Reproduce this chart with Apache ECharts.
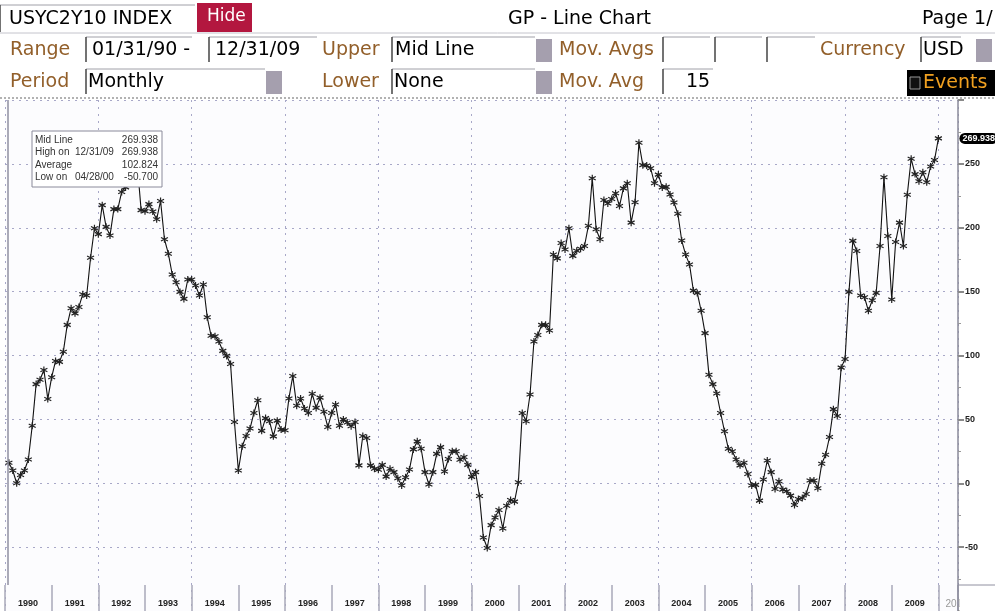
<!DOCTYPE html>
<html>
<head>
<meta charset="utf-8">
<title>USYC2Y10 INDEX - GP Line Chart</title>
<script src="https://cdn.jsdelivr.net/npm/echarts@6/dist/echarts.min.js"></script>
<style>
  html, body { margin: 0; padding: 0; background: #fff; }
  #chart { width: 995px; height: 611px; }
</style>
</head>
<body>
<div id="chart"></div>
<script>
// monthly month-end values, 01/31/90 .. 12/31/09
var startYear = 1990;
var spread1990s = [
  16, 10, 0, 6.5, 10, 18.6, 45, 77.6, 81, 88.7, 66, 83,                      // 1990
  95.7, 95, 103, 124, 137, 133, 138, 148, 147, 176.5, 199.6, 195,            // 1991
  217.7, 200.7, 194, 214.6, 214.6, 228, 231.6, 245, 258, 250, 213.8, 213,    // 1992
  218.5, 212.7, 206.7, 221, 191, 179.7, 163.4, 157.4, 149.8, 144.3, 159.5, 159.5, // 1993
  154.8, 147, 155.6, 129.9, 115.4, 115, 111, 103.6, 99.7, 93.4, 48, 10,      // 1994
  29, 37, 42.8, 55, 65, 41, 51, 48.6, 36.7, 49, 42, 41.5,                    // 1995
  66.4, 84, 60.6, 66.4, 58.5, 55, 70, 59, 67, 56, 44, 55,                    // 1996
  61.7, 45, 50, 47.5, 44.6, 48, 14, 37, 35.4, 14, 11.3, 10.5,                // 1997
  14.4, 5.2, 11.3, 8.7, 3.9, -1.8, 4.7, 10.8, 26.5, 32.8, 27, 8.7,           // 1998
  -1, 8.7, 23, 28.3, 9.2, 19, 25, 25, 18.4, 20.5, 14.4, 5                    // 1999
];
var spread2000s = [
  8.7, -10, -42.5, -50.7, -32.8, -26.8, -21, -35.4, -17.6, -13.1, -14.4, 0.8, // 2000
  55, 48.5, 69.5, 111, 116, 124, 124, 119.6, 179, 176, 188, 183,             // 2001
  199.6, 178, 182, 183.6, 185.7, 201.5, 238.7, 198.8, 191, 221.7, 219, 222.5, // 2002
  227, 217, 230.8, 234.8, 204, 220, 266.5, 249, 248.7, 246.6, 234.8, 241.6,  // 2003
  231.6, 232, 226, 219.8, 211, 190, 179, 171.3, 150.8, 149, 135, 117.5,      // 2004
  85, 77.6, 70.3, 55, 40.7, 27, 25, 18.6, 14, 16, 7.3, -1.8,                 // 2005
  -1.3, -13.6, 2.9, 17.8, 8.7, -4.5, 1.6, -5, -6.3, -9.7, -17, -12.3,        // 2006
  -11.5, -8.4, 2.1, 2.1, -3.9, 15.2, 22.3, 36.2, 58, 52.7, 90.5, 97.3,       // 2007
  149.8, 189.7, 181.8, 147, 145.6, 135, 143.2, 149, 185.7, 239.5, 193.6, 143.8, // 2008
  188.9, 204, 185.7, 225.9, 254, 242, 236.4, 243.4, 235.6, 248, 253, 269.938 // 2009
];
var yearLabels = ['1990', '1991', '1992', '1993', '1994', '1995', '1996', '1997', '1998', '1999',
  '2000', '2001', '2002', '2003', '2004', '2005', '2006', '2007', '2008', '2009', '201'];
var statsRows = [
  ['Mid Line', '', '269.938'],
  ['High on', '12/31/09', '269.938'],
  ['Average', '', '102.824'],
  ['Low on', '04/28/00', '-50.700']
];
var lastLabel = '269.938';

var values = spread1990s.concat(spread2000s);
var seriesData = values.map(function (v, i) {
  return [startYear + (i + 1) / 12, v];
});
var xMax = 2010.42;

var brown = '#925f2a';
var uiFont = '"DejaVu Sans", sans-serif';
var smallFont = '"Liberation Sans", Arial, sans-serif';

function txt(x, y, s, color, size) {
  return { type: 'text', x: x, y: y, z: 10,
    style: { text: s, fill: color || '#000', font: (size || 19) + 'px ' + uiFont, verticalAlign: 'middle' } };
}
function field(x, y, w, h) {
  return { type: 'group', z: 10, children: [
    { type: 'rect', shape: { x: x, y: y, width: w, height: h }, style: { fill: '#fff' } },
    { type: 'line', shape: { x1: x, y1: y, x2: x + w, y2: y }, style: { stroke: '#a0a0a8', lineWidth: 1 } },
    { type: 'line', shape: { x1: x, y1: y, x2: x, y2: y + h }, style: { stroke: '#444', lineWidth: 1.5 } }
  ] };
}
function knob(x, y) {
  return { type: 'rect', z: 10, shape: { x: x, y: y, width: 16, height: 23 }, style: { fill: '#a59fae' } };
}

var header = [
  field(0, 5, 195, 27), txt(9, 19, 'USYC2Y10 INDEX'),
  { type: 'rect', z: 10, shape: { x: 197, y: 3, width: 55, height: 29 }, style: { fill: '#b3173f' } },
  txt(207, 17, 'Hide', '#fff', 17),
  txt(508, 19, 'GP - Line Chart'),
  txt(922, 19, 'Page 1/'),
  { type: 'line', z: 10, shape: { x1: 0, y1: 33, x2: 995, y2: 33 }, style: { stroke: '#c4c4cc', lineWidth: 1 } },

  txt(10, 50, 'Range', brown),
  field(86, 37, 106, 25), txt(92, 50, '01/31/90 -'),
  field(209, 37, 108, 25), txt(215, 50, '12/31/09'),
  txt(322, 50, 'Upper', brown),
  field(392, 37, 143, 25), txt(395, 50, 'Mid Line'), knob(536, 39),
  txt(559, 50, 'Mov. Avgs', brown),
  field(663, 37, 47, 25), field(715, 37, 47, 25), field(767, 37, 48, 25),
  txt(820, 50, 'Currency', brown),
  field(921, 37, 40, 25), txt(923, 50, 'USD'), knob(976, 39),

  txt(10, 82, 'Period', brown),
  field(86, 69, 179, 25), txt(88, 82, 'Monthly'), knob(266, 71),
  txt(322, 82, 'Lower', brown),
  field(392, 69, 143, 25), txt(394, 82, 'None'), knob(536, 71),
  txt(559, 82, 'Mov. Avg', brown),
  field(663, 69, 50, 25), txt(686, 82, '15'),
  { type: 'rect', z: 10, shape: { x: 907, y: 70, width: 88, height: 26 }, style: { fill: '#000' } },
  { type: 'rect', z: 11, shape: { x: 910, y: 77, width: 10, height: 12 }, style: { fill: '#111', stroke: '#999', lineWidth: 1 } },
  txt(923, 83, 'Events', '#f0a020'),
  { type: 'line', z: 10, shape: { x1: 0, y1: 98, x2: 995, y2: 98 }, style: { stroke: '#999', lineWidth: 1.5, lineDash: [2, 2] } }
];

// stats box in the upper left of the plot
var statsBox = [
  { type: 'rect', z: 20, shape: { x: 32, y: 131, width: 130, height: 56 }, style: { fill: '#fff', stroke: '#8a8a9a', lineWidth: 1 } }
];
statsRows.forEach(function (r, k) {
  var y = 140 + k * 12.5;
  var f = '10px ' + smallFont;
  statsBox.push({ type: 'text', z: 21, x: 35, y: y, style: { text: r[0], fill: '#333', font: f, verticalAlign: 'middle' } });
  if (r[1]) statsBox.push({ type: 'text', z: 21, x: 75, y: y, style: { text: r[1], fill: '#333', font: f, verticalAlign: 'middle' } });
  statsBox.push({ type: 'text', z: 21, x: 158, y: y, style: { text: r[2], fill: '#333', font: f, align: 'right', verticalAlign: 'middle' } });
});

var frame = [
  { type: 'line', z: 5, shape: { x1: 8, y1: 100, x2: 8, y2: 585 }, style: { stroke: '#9090a0', lineWidth: 1.5 } },
  { type: 'rect', z: 5, shape: { x: 959.5, y: 586, width: 36, height: 25 }, style: { fill: '#fff' } },
  { type: 'line', z: 6, shape: { x1: 958, y1: 585, x2: 995, y2: 585 }, style: { stroke: '#9090a0', lineWidth: 1 } }
];

var myChart = echarts.init(document.getElementById('chart'));

var option = {
  backgroundColor: '#fff',
  animation: false,
  grid: [
    { left: 5, right: 37, top: 100, bottom: 0, show: true, backgroundColor: '#fcfcfe', borderWidth: 0 },
    { left: 5, right: 37, top: 585, bottom: 0, show: false }
  ],
  xAxis: [
    {
      type: 'value', gridIndex: 0, min: 1990, max: xMax, interval: 2,
      axisLine: { show: false }, axisTick: { show: false }, axisLabel: { show: false },
      splitLine: { show: true, lineStyle: { color: '#a8a8c8', type: [2, 5], width: 1 } }
    },
    {
      type: 'value', gridIndex: 1, min: 1990, max: xMax, interval: 1, position: 'top',
      axisLine: { show: true, lineStyle: { color: '#9090a0', width: 1 } },
      axisTick: { show: false },
      splitLine: { show: true, lineStyle: { color: '#a8a8b8', width: 1.5 } },
      axisLabel: {
        inside: true, margin: 14, hideOverlap: false,
        showMinLabel: true, showMaxLabel: false,
        padding: [0, 0, 0, 46],
        color: '#222', fontSize: 9, fontWeight: 'bold', fontFamily: smallFont,
        rich: { part: { color: '#999', fontSize: 10, fontWeight: 'normal', fontFamily: smallFont } },
        formatter: function (v) {
          var k = Math.round(v - startYear);
          if (Math.abs(v - startYear - k) > 1e-6 || !yearLabels[k]) return '';
          // the year after the last full one is cut off by the right axis
          if (k === yearLabels.length - 1) return '{part|' + yearLabels[k] + '}      ';
          return yearLabels[k];
        }
      }
    }
  ],
  yAxis: [
    {
      type: 'value', gridIndex: 0, position: 'right', min: -100, max: 300, interval: 50,
      axisLine: { show: true, lineStyle: { color: '#8a8a9a', width: 1.5 } },
      axisTick: { show: true, length: 6, lineStyle: { color: '#8a8a8a', width: 2 } },
      minorTick: { show: true, splitNumber: 2, length: 3, lineStyle: { color: '#999' } },
      axisLabel: {
        margin: 7, color: '#222', fontSize: 9, fontWeight: 'bold', fontFamily: smallFont,
        formatter: function (v) { return (v <= -100 || v >= 300) ? '' : String(v); }
      },
      splitLine: { show: true, lineStyle: { color: '#a8a8c8', type: [2, 5], width: 1 } }
    },
    { type: 'value', gridIndex: 1, show: false }
  ],
  series: [
    {
      name: 'Mid Line',
      type: 'line',
      xAxisIndex: 0,
      yAxisIndex: 0,
      data: seriesData,
      symbol: 'path://M5,0L5,10M0.7,2.5L9.3,7.5M0.7,7.5L9.3,2.5',
      symbolSize: 7,
      showAllSymbol: true,
      itemStyle: { color: 'none', borderColor: '#222', borderWidth: 1.2 },
      lineStyle: { color: '#111', width: 1.1 },
      endLabel: {
        show: true, distance: 21,
        formatter: function () { return lastLabel; },
        backgroundColor: '#000', color: '#fff', borderRadius: 6,
        padding: [1, 3], fontSize: 9, fontWeight: 'bold', fontFamily: smallFont
      }
    }
  ],
  graphic: { elements: header.concat(statsBox, frame) }
};

myChart.setOption(option);
</script>
</body>
</html>
